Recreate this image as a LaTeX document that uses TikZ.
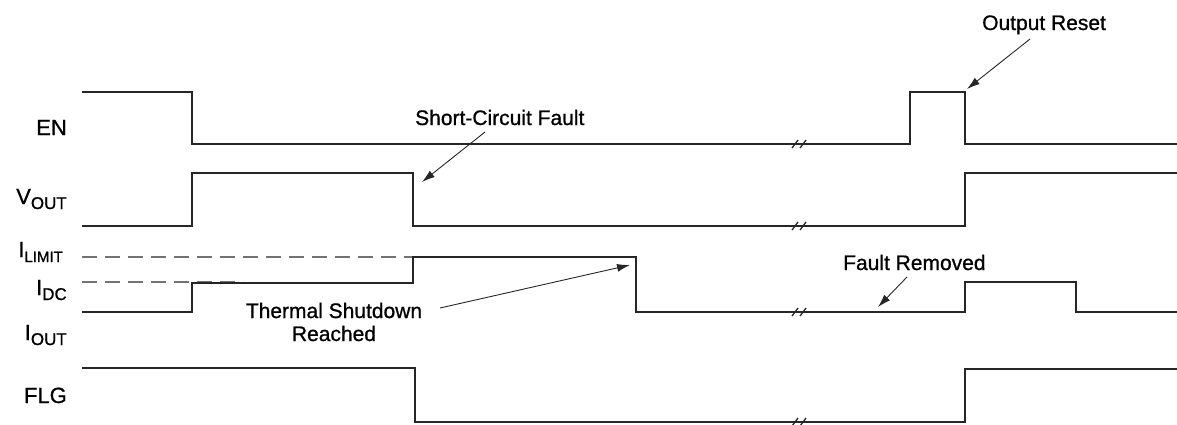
\documentclass[tikz,border=0pt]{standalone}
\usepackage{fontspec}
\setmainfont{Liberation Sans}[FakeBold=0.8]
\usetikzlibrary{arrows.meta}
\newcommand\sigsub[2][17]{\raisebox{-5pt}{\fontsize{#1}{#1}\selectfont #2}}
\begin{document}
\begin{tikzpicture}[x=1pt,y=-1pt,
  sig/.style={line width=1.8pt, line join=miter, black!85},
  refline/.style={line width=1.1pt, black!55, dash pattern=on 15pt off 8pt},
  lbl/.style={font=\fontsize{22}{24}\selectfont, anchor=base east, inner sep=0pt},
  note/.style={font=\fontsize{21}{23}\selectfont, inner sep=0pt, align=center},
  callout/.style={line width=0.9pt, black!85, -{Latex[length=13pt,width=8pt]}},
  brk/.style={line width=1.3pt, black!85}]
\useasboundingbox (0,0) rectangle (1177,424);

% signal labels
\node[lbl] (en)   at (67,135) {EN};
\node[lbl] (vout) at (67,204) {V\sigsub{OUT}};
\node[lbl] (ilim) at (63,257) {I\sigsub[15]{LIMIT}};
\node[lbl] (idc)  at (67,295) {I\sigsub{DC}};
\node[lbl] (iout) at (67,340) {I\sigsub{OUT}};
\node[lbl] (flg)  at (67,403) {FLG};

% reference levels
\draw[refline] (82,257) -- (413,257);
\draw[refline] (82,282) -- (243,282);

% waveforms
\draw[sig] (82,92) -- (192,92) -- (192,144) -- (910,144) -- (910,92) -- (965,92) -- (965,144) -- (1177,144);
\draw[sig] (82,226) -- (192,226) -- (192,173) -- (413,173) -- (413,226) -- (965,226) -- (965,173) -- (1177,173);
\draw[sig] (82,312) -- (192,312) -- (192,283) -- (413,283) -- (413,257) -- (636,257) -- (636,312) -- (965,312) -- (965,282) -- (1076,282) -- (1076,312) -- (1177,312);
\draw[sig] (82,368) -- (415,368) -- (415,422) -- (965,422) -- (965,369) -- (1177,369);

% break marks
\foreach \yy in {144,226,312,422}{
  \draw[brk] (792,\yy+4) -- (798,\yy-4);
  \draw[brk] (800,\yy+4) -- (806,\yy-4);
}

% annotations
\node[note, anchor=base west] (scf) at (415,125) {Short-Circuit Fault};
\coordinate (scftail) at (485,132);
\coordinate (scftip) at (422,182);
\draw[callout] (scftail) -- (scftip);

\node[note] (tsr) at (334,322) {Thermal Shutdown\\Reached};
\coordinate (tsrtail) at (440,308);
\coordinate (tsrtip) at (630,265);
\draw[callout] (tsrtail) -- (tsrtip);

\node[note, anchor=base west] (fr) at (843,270) {Fault Removed};
\coordinate (frtail) at (907,277);
\coordinate (frtip) at (878,307);
\draw[callout] (frtail) -- (frtip);

\node[note, anchor=base west] (ors) at (982,30) {Output Reset};
\coordinate (orstail) at (1030,39);
\coordinate (orstip) at (967,89);
\draw[callout] (orstail) -- (orstip);
\end{tikzpicture}
\end{document}
